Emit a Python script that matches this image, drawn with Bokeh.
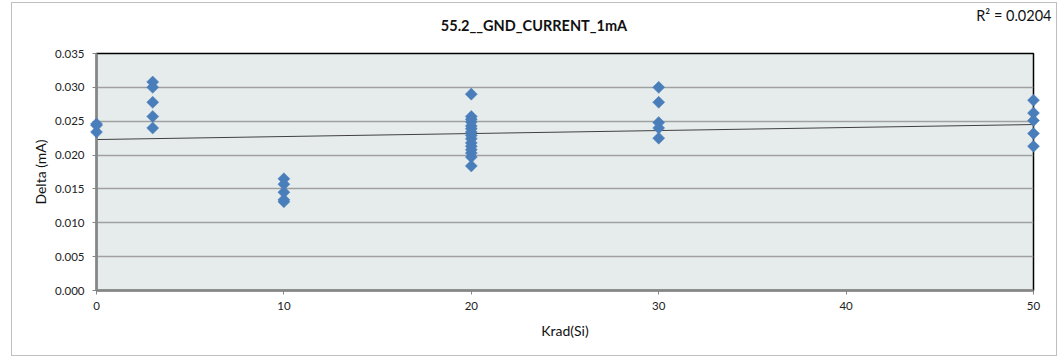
import numpy as np
from bokeh.plotting import figure
from bokeh.models import Range1d, FixedTicker, NumeralTickFormatter
from bokeh.core.properties import value
from bokeh.embed import file_html
from bokeh.resources import INLINE

# ---- data ----
x_0 = [0, 0, 0]
y_0 = [0.0246, 0.0244, 0.0234]
x_3 = [3, 3, 3, 3, 3]
y_3 = [0.0308, 0.0300, 0.0278, 0.0257, 0.0240]
x_10 = [10, 10, 10, 10, 10]
y_10 = [0.0165, 0.0157, 0.0145, 0.0134, 0.0131]
x_20 = [20] * 15
y_20 = [0.0290, 0.0257, 0.0253, 0.0249, 0.0243, 0.0239, 0.0234, 0.0229,
        0.0224, 0.0218, 0.0213, 0.0208, 0.0203, 0.0197, 0.0184]
x_30 = [30, 30, 30, 30, 30]
y_30 = [0.0300, 0.0278, 0.0248, 0.0240, 0.0225]
x_50 = [50, 50, 50, 50, 50]
y_50 = [0.0281, 0.0262, 0.0251, 0.0232, 0.0213]

title_text = "55.2__GND_CURRENT_1mA"
r2_text = "R\u00b2 = 0.0204"
x_label = "Krad(Si)"
y_label = "Delta (mA)"
x_ticks = [0, 10, 20, 30, 40, 50]
y_ticks = [0.000, 0.005, 0.010, 0.015, 0.020, 0.025, 0.030, 0.035]

x_min, x_max = 0, 50
y_min, y_max = 0.0, 0.035

xs = np.array(x_0 + x_3 + x_10 + x_20 + x_30 + x_50, dtype=float)
ys = np.array(y_0 + y_3 + y_10 + y_20 + y_30 + y_50, dtype=float)
slope, intercept = np.polyfit(xs, ys, 1)
trend_x = [x_min, x_max]
trend_y = [intercept + slope * v for v in trend_x]

FONT = "Lato"

p = figure(width=1046, height=354, output_backend="svg", toolbar_location=None,
           x_range=Range1d(x_min, x_max), y_range=Range1d(y_min, y_max),
           min_border_left=84, min_border_right=25, min_border_top=50,
           min_border_bottom=67)
p.styles = {"border": "1px solid #BFBFBF", "box-sizing": "border-box",
            "margin-left": "11px", "margin-top": "2px"}
p.background_fill_color = "#E6ECEC"
p.border_fill_color = "white"
p.outline_line_color = "black"
p.outline_line_width = 1.5

p.xgrid.visible = False
p.ygrid.ticker = FixedTicker(ticks=y_ticks)
p.ygrid.grid_line_color = "#A0A0A0"
p.ygrid.grid_line_width = 1.5

for ax in (p.xaxis[0], p.yaxis[0]):
    ax.axis_line_color = "#868686"
    ax.axis_line_width = 2.5
    ax.major_tick_line_color = "#868686"
    ax.major_tick_in = 0
    ax.major_tick_out = 4
    ax.minor_tick_line_color = None
    ax.major_label_text_font = FONT
    ax.major_label_text_font_size = "11.5px"
    ax.major_label_text_color = "#222222"
    ax.axis_label_text_font = FONT
    ax.axis_label_text_font_size = "14px"
    ax.axis_label_text_font_style = "normal"
    ax.axis_label_text_color = "#111111"

p.xaxis.ticker = FixedTicker(ticks=x_ticks)
p.yaxis.ticker = FixedTicker(ticks=y_ticks)
p.yaxis.formatter = NumeralTickFormatter(format="0.000")
p.xaxis.axis_label = x_label
p.yaxis.axis_label = y_label
p.xaxis.major_label_standoff = 7
p.xaxis.axis_label_standoff = 9
p.yaxis.major_label_standoff = 8
p.yaxis.axis_label_standoff = 3

p.line(trend_x, trend_y, line_color="#404040", line_width=1)
p.scatter(xs, ys, marker="square", angle=np.pi / 4, size=8.5,
          fill_color="#4A7EBB", line_color="#4A7EBB", line_width=0.5, level="overlay")

# chart title and R² annotation, anchored to the top edge of the plot area
p.text(x=[(x_min + x_max) / 2], y=[y_max], text=[title_text], x_offset=-31, y_offset=-28,
       text_font=value(FONT), text_font_size="14.5px", text_font_style="bold",
       text_align="center", text_baseline="middle", text_color="#111111", level="overlay")
p.text(x=[x_max], y=[y_max], text=[r2_text], x_offset=18, y_offset=-38,
       text_font=value(FONT), text_font_size="14.5px",
       text_align="right", text_baseline="middle", text_color="#111111", level="overlay")

open("out.html", "w").write(file_html(p, INLINE))
